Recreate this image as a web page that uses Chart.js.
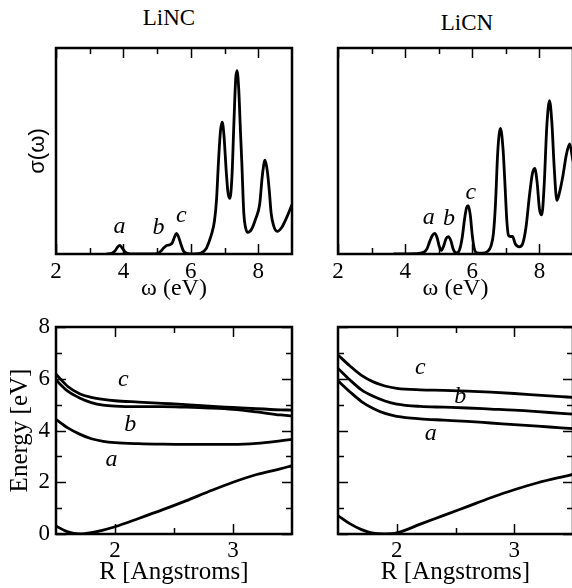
<!DOCTYPE html>
<html>
<head>
<meta charset="utf-8">
<script src="https://cdn.jsdelivr.net/npm/chart.js@4.4.1/dist/chart.umd.min.js"></script>
<style>
  html, body { margin: 0; padding: 0; background: #fff; width: 572px; height: 588px; overflow: hidden; }
  .panel { position: absolute; }
  .clip { position: absolute; overflow: hidden; }
  .ttl { position: absolute; font: 23px "Liberation Serif", serif; color: #000; transform: translateX(-50%); white-space: nowrap; }
</style>
</head>
<body>
<div class="ttl" style="left:169px; top:5px">LiNC</div>
<div class="ttl" style="left:467px; top:10px">LiCN</div>
<canvas class="panel" id="specNC" width="300" height="305" style="left:0; top:0"></canvas>
<div class="clip" style="left:290px; top:0; width:282px; height:305px">
  <canvas class="panel" id="specCN" width="300" height="305" style="left:0; top:0"></canvas>
</div>
<canvas class="panel" id="potNC" width="300" height="288" style="left:0; top:300px"></canvas>
<div class="clip" style="left:290px; top:300px; width:282px; height:288px">
  <canvas class="panel" id="potCN" width="300" height="288" style="left:0; top:0"></canvas>
</div>
<script>
// absorption spectra (arbitrary units)
const omegaNC = [3.5, 3.65, 3.75, 3.82, 3.89, 3.96, 4.05, 4.2, 4.8, 5.0, 5.1, 5.2, 5.3, 5.38, 5.45, 5.51, 5.57, 5.63, 5.7, 5.78, 5.9,
  6.1, 6.3, 6.45, 6.54, 6.62, 6.7, 6.76, 6.82, 6.88, 6.93, 6.98, 7.05, 7.1, 7.16, 7.22, 7.28, 7.33, 7.37, 7.42, 7.47, 7.51, 7.57, 7.62, 7.69,
  7.8, 7.92, 8.04, 8.12, 8.2, 8.27, 8.33, 8.38, 8.45, 8.56, 8.7, 8.85, 9.0];
const sigmaNC = [0, 0.003, 0.015, 0.032, 0.042, 0.03, 0.01, 0.001, 0, 0.002, 0.012, 0.03, 0.042, 0.045, 0.055, 0.08, 0.1, 0.085, 0.05, 0.015, 0.002,
  0, 0.004, 0.025, 0.06, 0.1, 0.16, 0.26, 0.45, 0.6, 0.64, 0.58, 0.4, 0.3, 0.27, 0.38, 0.65, 0.85, 0.89, 0.8, 0.6, 0.45, 0.2, 0.13, 0.105,
  0.12, 0.17, 0.24, 0.38, 0.455, 0.4, 0.3, 0.2, 0.14, 0.11, 0.13, 0.18, 0.24];

const omegaCN = [3.65, 4.3, 4.55, 4.65, 4.73, 4.81, 4.88, 4.95, 5.02, 5.08, 5.15, 5.22, 5.29, 5.36, 5.44, 5.53, 5.62, 5.7, 5.77, 5.83,
  5.88, 5.94, 6.0, 6.06, 6.14, 6.3, 6.45, 6.56, 6.63, 6.69, 6.76, 6.84, 6.92, 6.97, 7.03, 7.08, 7.14, 7.2, 7.28, 7.4,
  7.5, 7.6, 7.7, 7.79, 7.86, 7.93, 8.0, 8.07, 8.14, 8.22, 8.3, 8.37, 8.44, 8.52, 8.6, 8.7, 8.8, 8.9, 9.0];
const sigmaCN = [0, 0.002, 0.008, 0.025, 0.06, 0.09, 0.1, 0.08, 0.035, 0.018, 0.04, 0.075, 0.084, 0.065, 0.02, 0.005, 0.02, 0.08, 0.17, 0.225,
  0.235, 0.19, 0.09, 0.025, 0.005, 0.004, 0.012, 0.04, 0.1, 0.24, 0.5, 0.61, 0.5, 0.35, 0.16, 0.09, 0.085, 0.085, 0.05, 0.035,
  0.05, 0.13, 0.28, 0.39, 0.416, 0.35, 0.22, 0.19, 0.33, 0.62, 0.744, 0.64, 0.42, 0.26, 0.3, 0.38, 0.48, 0.534, 0.45];

// potential energy curves vs bond length R
const rGrid = [1.5, 1.6, 1.7, 1.8, 1.9, 2.0, 2.2, 2.4, 2.6, 2.8, 3.0, 3.2, 3.4, 3.5];
const groundNC = [0.31, 0.08, 0.0, 0.05, 0.15, 0.28, 0.6, 0.93, 1.28, 1.65, 2.0, 2.3, 2.52, 2.64];
const stateA_NC = [4.43, 4.1, 3.86, 3.68, 3.58, 3.53, 3.49, 3.47, 3.46, 3.46, 3.46, 3.5, 3.6, 3.66];
const stateB_NC = [5.95, 5.52, 5.26, 5.08, 4.98, 4.94, 4.92, 4.92, 4.9, 4.87, 4.82, 4.72, 4.6, 4.56];
const stateC_NC = [6.18, 5.7, 5.42, 5.28, 5.2, 5.15, 5.1, 5.05, 5.0, 4.94, 4.89, 4.84, 4.8, 4.79];

const groundCN = [0.71, 0.4, 0.17, 0.03, 0.005, 0.04, 0.38, 0.72, 1.06, 1.4, 1.71, 1.98, 2.2, 2.3];
const stateA_CN = [5.92, 5.5, 5.12, 4.85, 4.66, 4.55, 4.45, 4.4, 4.35, 4.29, 4.23, 4.17, 4.1, 4.07];
const stateB_CN = [6.4, 5.96, 5.57, 5.32, 5.14, 5.02, 4.93, 4.9, 4.87, 4.83, 4.79, 4.73, 4.66, 4.63];
const stateC_CN = [6.92, 6.5, 6.13, 5.88, 5.72, 5.63, 5.57, 5.55, 5.52, 5.48, 5.43, 5.37, 5.31, 5.28];

// tick values
const omegaMajor = [2, 4, 6, 8];
const omegaMinor = [3, 5, 7];
const rMajor = [2, 3];
const rMinor = [2.5];
const energyMajor = [0, 2, 4, 6, 8];
const energyMinor = [1, 3, 5, 7];

// state labels a, b, c (data coordinates of the letter baseline)
const peakLabelsNC = [{ t: 'a', x: 3.88, y: 0.10 }, { t: 'b', x: 5.04, y: 0.096 }, { t: 'c', x: 5.72, y: 0.157 }];
const peakLabelsCN = [{ t: 'a', x: 4.70, y: 0.146 }, { t: 'b', x: 5.31, y: 0.14 }, { t: 'c', x: 5.96, y: 0.267 }];
const stateLabelsNC = [{ t: 'a', x: 1.97, y: 2.64 }, { t: 'b', x: 2.13, y: 3.99 }, { t: 'c', x: 2.07, y: 5.71 }];
const stateLabelsCN = [{ t: 'a', x: 2.29, y: 3.63 }, { t: 'b', x: 2.54, y: 5.08 }, { t: 'c', x: 2.2, y: 6.18 }];

const SERIF = '"Liberation Serif", "Times New Roman", serif';

// box around the plot area with inward ticks on all four sides, plus italic state letters
function decorations(spec) {
  return {
    id: 'decorations',
    afterDatasetsDraw(chart) {
      const { ctx, chartArea: a, scales } = chart;
      ctx.save();
      ctx.strokeStyle = '#000';
      ctx.lineWidth = 1.5;
      ctx.beginPath();
      const xTicks = (vals, len) => vals.forEach(v => {
        const px = Math.round(scales.x.getPixelForValue(v)) + 0.5;
        ctx.moveTo(px, a.top); ctx.lineTo(px, a.top + len);
        ctx.moveTo(px, a.bottom); ctx.lineTo(px, a.bottom - len);
      });
      const yTicks = (vals, len) => vals.forEach(v => {
        const py = Math.round(scales.y.getPixelForValue(v)) + 0.5;
        ctx.moveTo(a.left, py); ctx.lineTo(a.left + len, py);
        ctx.moveTo(a.right, py); ctx.lineTo(a.right - len, py);
      });
      xTicks(spec.xMajor || [], 10);
      xTicks(spec.xMinor || [], 6);
      yTicks(spec.yMajor || [], 10);
      yTicks(spec.yMinor || [], 6);
      ctx.stroke();
      ctx.lineWidth = 2.5;
      ctx.strokeRect(a.left, a.top, a.right - a.left, a.bottom - a.top);

      ctx.fillStyle = '#000';
      ctx.font = 'italic 24px ' + SERIF;
      ctx.textAlign = 'center';
      ctx.textBaseline = 'alphabetic';
      (spec.letters || []).forEach(l => {
        ctx.fillText(l.t, scales.x.getPixelForValue(l.x), scales.y.getPixelForValue(l.y));
      });
      ctx.restore();
    }
  };
}

function curve(xs, ys) {
  return {
    data: xs.map((x, i) => ({ x: x, y: ys[i] })),
    borderColor: '#000',
    borderWidth: 2.8,
    pointRadius: 0,
    fill: false,
    cubicInterpolationMode: 'monotone'
  };
}

function xAxis(min, max, ticks, title, titleSize, tickPad, titlePad, height) {
  return {
    type: 'linear', min: min, max: max,
    afterBuildTicks: s => { s.ticks = ticks.map(v => ({ value: v })); },
    afterFit: s => { s.height = height; },
    grid: { display: false, drawTicks: false },
    border: { display: false },
    ticks: { color: '#000', font: { family: SERIF, size: 23 }, padding: tickPad, maxRotation: 0, autoSkip: false },
    title: { display: true, text: title, color: '#000', font: { family: SERIF, size: titleSize }, padding: { top: 0, bottom: titlePad } }
  };
}

function makeChart(id, datasets, opts) {
  return new Chart(document.getElementById(id), {
    type: 'line',
    data: { datasets: datasets },
    options: {
      responsive: false,
      animation: false,
      layout: { padding: opts.padding },
      plugins: { legend: { display: false }, tooltip: { enabled: false } },
      scales: { x: opts.x, y: opts.y }
    },
    plugins: [decorations(opts.deco)]
  });
}

// top row: spectra
makeChart('specNC', [curve(omegaNC, sigmaNC)], {
  padding: { top: 48, right: 8, left: 0, bottom: 0 },
  x: xAxis(2, 9, omegaMajor, 'ω (eV)', 24, 4, 2, 51),
  y: {
    min: 0, max: 1,
    afterFit: s => { s.width = 56; },
    grid: { display: false, drawTicks: false },
    border: { display: false },
    ticks: { display: false },
    title: { display: true, text: 'σ(ω)', color: '#000', font: { family: '"Liberation Sans", Arial, sans-serif', size: 22 }, padding: { top: 25, bottom: 0 } }
  },
  deco: { xMajor: omegaMajor, xMinor: omegaMinor, letters: peakLabelsNC }
});

makeChart('specCN', [curve(omegaCN, sigmaCN)], {
  padding: { top: 48, right: 17, left: 48, bottom: 0 },
  x: xAxis(2, 9, omegaMajor, 'ω (eV)', 24, 4, 2, 51),
  y: { display: false, min: 0, max: 1 },
  deco: { xMajor: omegaMajor, xMinor: omegaMinor, letters: peakLabelsCN }
});

// bottom row: potential curves
makeChart('potNC', [curve(rGrid, groundNC), curve(rGrid, stateA_NC), curve(rGrid, stateB_NC), curve(rGrid, stateC_NC)], {
  padding: { top: 27, right: 8, left: 0, bottom: 0 },
  x: xAxis(1.5, 3.5, rMajor, 'R [Angstroms]', 25, 3, 1, 54),
  y: {
    min: 0, max: 8,
    afterBuildTicks: s => { s.ticks = energyMajor.map(v => ({ value: v })); },
    afterFit: s => { s.width = 56; },
    grid: { display: false, drawTicks: false },
    border: { display: false },
    ticks: { color: '#000', font: { family: SERIF, size: 23 }, padding: 6 },
    title: { display: true, text: 'Energy [eV]', color: '#000', font: { family: SERIF, size: 25 }, padding: { top: 5, bottom: 0 } }
  },
  deco: { xMajor: rMajor, xMinor: rMinor, yMajor: energyMajor, yMinor: energyMinor, letters: stateLabelsNC }
});

makeChart('potCN', [curve(rGrid, groundCN), curve(rGrid, stateA_CN), curve(rGrid, stateB_CN), curve(rGrid, stateC_CN)], {
  padding: { top: 27, right: 17, left: 48, bottom: 0 },
  x: xAxis(1.5, 3.5, rMajor, 'R [Angstroms]', 25, 3, 1, 54),
  y: { display: false, min: 0, max: 8 },
  deco: { xMajor: rMajor, xMinor: rMinor, yMajor: energyMajor, yMinor: energyMinor, letters: stateLabelsCN }
});
</script>
</body>
</html>
